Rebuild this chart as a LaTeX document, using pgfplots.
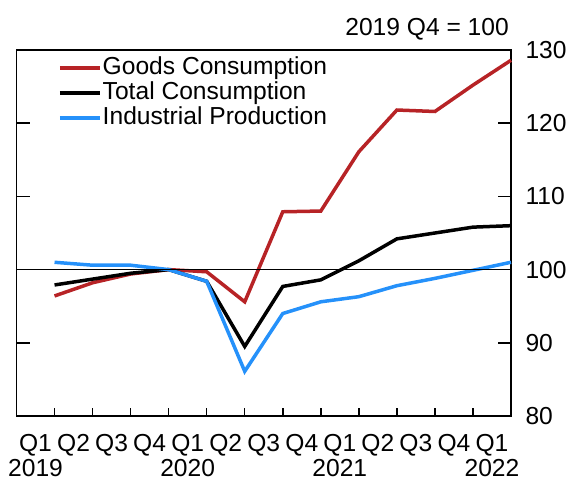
\documentclass[border=0pt]{standalone}
\usepackage{pgfplots}
\pgfplotsset{compat=1.18}
\usepackage{fontspec}
\setmainfont{Liberation Sans}
\definecolor{goods}{RGB}{183,35,38}
\definecolor{ip}{RGB}{37,145,250}
\newcommand\f{\fontsize{24.6bp}{28bp}\selectfont}
\begin{document}
\begin{tikzpicture}
\begin{axis}[
  scale only axis, width=494.5bp, height=366bp,
  xmin=0, xmax=13, ymin=80, ymax=130,
  axis line style={line width=1.8bp},
  tick align=inside,
  major tick length=13bp,
  minor tick length=8bp,
  every tick/.style={black, line width=1.5bp},
  xtick={1,...,13},
  minor xtick={1,...,12},
  xtick pos=bottom,
  xtick style={draw=none},
  minor x tick style={draw=black, line width=1.5bp},
  xticklabels={{Q1\\2019},Q2,Q3,Q4,{Q1\\2020},Q2,Q3,Q4,{Q1\\2021},Q2,Q3,Q4,{Q1\\2022}},
  xticklabel style={align=center, font=\fontsize{24.6bp}{25bp}\selectfont, xshift=-19.02bp, yshift=-15bp},
  ytick={80,90,...,130},
  ytick pos=both,
  yticklabel pos=right,
  yticklabel style={font=\f, anchor=west, xshift=0bp},
  yticklabel shift=11bp,
  /pgf/number format/assume math mode=true,
  legend style={at={(rel axis cs:0.084,0.985)}, anchor=north west, draw=none, fill=none,
    inner sep=0pt, font=\f, row sep=0pt,
    nodes={text height=18bp, text depth=5bp, inner sep=1bp}},
  legend cell align=left,
  legend image code/.code={\draw[#1] (0bp,0bp) -- (40bp,0bp);},
  clip=false,
]
\addplot[goods, line width=3.5bp] coordinates {
(1,96.4) (2,98.2) (3,99.4) (4,100) (5,99.7) (6,95.6) (7,107.9) (8,108.0) (9,116.1) (10,121.8) (11,121.6) (12,125.2) (13,128.6)};
\addlegendentry{Goods Consumption}
\addplot[black, line width=3.5bp] coordinates {
(1,97.9) (2,98.7) (3,99.5) (4,100) (5,98.4) (6,89.5) (7,97.7) (8,98.6) (9,101.2) (10,104.2) (11,105.0) (12,105.8) (13,106.0)};
\addlegendentry{Total Consumption}
\addplot[ip, line width=3.5bp] coordinates {
(1,101.0) (2,100.6) (3,100.6) (4,100) (5,98.4) (6,86.1) (7,94.0) (8,95.6) (9,96.3) (10,97.8) (11,98.8) (12,99.9) (13,101.0)};
\addlegendentry{Industrial Production}
\draw[black, line width=1.5bp] (axis cs:0,100) -- (axis cs:13,100);
\node[anchor=base east, font=\f, inner sep=0pt] at ([xshift=-2bp, yshift=14bp]rel axis cs:1,1) {2019 Q4 = 100};
\coordinate (O) at (rel axis cs:0,0);
\end{axis}
\pgfresetboundingbox
\path[use as bounding box] (O) ++(-16.5bp,-65bp) rectangle ++(574bp,481bp);
\end{tikzpicture}
\end{document}
